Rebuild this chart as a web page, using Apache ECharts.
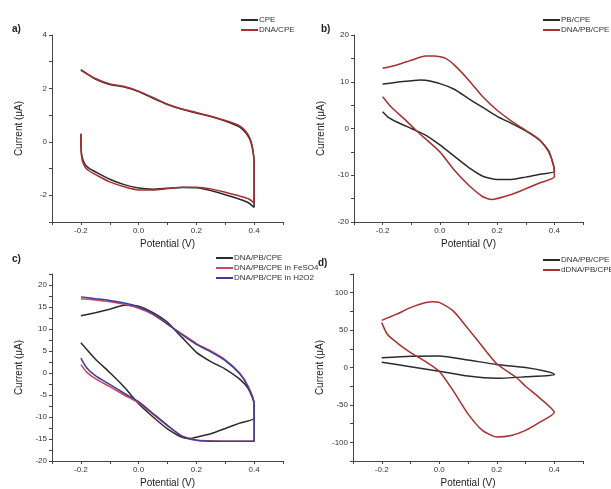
<!DOCTYPE html>
<html>
<head>
<meta charset="utf-8">
<title>CV curves</title>
<script src="https://cdn.jsdelivr.net/npm/echarts@6/dist/echarts.min.js"></script>
<style>
  html, body { margin: 0; padding: 0; background: #fff; }
  #demo { width: 611px; height: 489px; }
</style>
</head>
<body>
<div id="demo"></div>
<script>
// ---------------- 数据区 ----------------
// a) CPE / DNA/CPE
var a_cpe = [[-0.2,0.3],[-0.199,-0.3],[-0.195,-0.6],[-0.185,-0.85],[-0.17,-1.0],[-0.15,-1.12],[-0.1,-1.4],[-0.05,-1.6],[0,-1.73],[0.05,-1.77],[0.1,-1.74],[0.15,-1.71],[0.2,-1.72],[0.25,-1.82],[0.3,-1.98],[0.35,-2.15],[0.38,-2.28],[0.4,-2.45],
             [0.4,-1.5],[0.4,-0.8],[0.395,-0.3],[0.385,0.1],[0.37,0.35],[0.35,0.55],[0.3,0.78],[0.25,0.95],[0.2,1.08],[0.15,1.22],[0.1,1.4],[0.05,1.63],[0,1.88],[-0.05,2.05],[-0.1,2.15],[-0.15,2.35],[-0.2,2.7]];
var a_dna = [[-0.2,0.3],[-0.199,-0.35],[-0.195,-0.7],[-0.185,-0.95],[-0.17,-1.1],[-0.15,-1.22],[-0.1,-1.5],[-0.05,-1.68],[0,-1.8],[0.05,-1.8],[0.1,-1.75],[0.15,-1.7],[0.2,-1.7],[0.25,-1.76],[0.3,-1.89],[0.35,-2.03],[0.38,-2.13],[0.4,-2.28],
             [0.4,-1.5],[0.4,-0.8],[0.396,-0.3],[0.387,0.1],[0.372,0.38],[0.35,0.6],[0.3,0.8],[0.25,0.96],[0.2,1.1],[0.15,1.23],[0.1,1.41],[0.05,1.66],[0,1.9],[-0.05,2.07],[-0.1,2.17],[-0.15,2.37],[-0.2,2.68]];

// b) PB/CPE / DNA/PB/CPE
var b_pb = [[-0.2,3.6],[-0.18,2.4],[-0.15,1.4],[-0.1,0.0],[-0.05,-1.4],[0,-3.5],[0.05,-5.9],[0.1,-8.3],[0.15,-10.2],[0.2,-10.9],[0.25,-10.9],[0.3,-10.4],[0.35,-9.8],[0.4,-9.2],
            [0.397,-7.9],[0.38,-4.8],[0.35,-2.6],[0.3,-0.5],[0.25,1.1],[0.2,2.6],[0.15,4.5],[0.1,6.4],[0.05,8.4],[0,9.6],[-0.05,10.3],[-0.07,10.4],[-0.1,10.2],[-0.15,9.9],[-0.2,9.5]];
var b_dna = [[-0.2,6.8],[-0.17,4.6],[-0.12,1.8],[-0.08,-0.6],[0,-5],[0.05,-8.9],[0.1,-12.1],[0.15,-14.6],[0.18,-15.2],[0.25,-14.1],[0.3,-12.9],[0.35,-11.6],[0.4,-10.4],
             [0.397,-7.9],[0.38,-5],[0.35,-2.5],[0.3,-0.4],[0.25,1.6],[0.2,3.9],[0.15,6.8],[0.1,10.4],[0.05,13.6],[0.02,15],[-0.02,15.5],[-0.05,15.5],[-0.1,14.6],[-0.15,13.6],[-0.2,12.9]];

// c) DNA/PB/CPE, in FeSO4, in H2O2
var c_dna = [[-0.2,6.9],[-0.15,3.2],[-0.1,0.1],[-0.05,-3.2],[0,-7],[0.05,-10],[0.1,-12.7],[0.15,-14.6],[0.18,-14.9],[0.2,-14.6],[0.25,-13.8],[0.3,-12.6],[0.35,-11.4],[0.4,-10.3],
             [0.4,-7],[0.38,-3.6],[0.35,-1.4],[0.3,0.9],[0.25,2.6],[0.2,4.7],[0.15,8.1],[0.1,11.5],[0.05,13.7],[0,15.2],[-0.05,15.4],[-0.1,14.5],[-0.15,13.7],[-0.2,13]];
var c_fe = [[-0.2,1.9],[-0.18,0.2],[-0.15,-1.3],[-0.1,-3.1],[-0.05,-5],[0,-6.8],[0.05,-9.4],[0.1,-12],[0.15,-14.3],[0.2,-15.2],[0.25,-15.4],[0.3,-15.5],[0.35,-15.5],[0.4,-15.5],
            [0.4,-7],[0.38,-3.1],[0.35,0],[0.3,3.0],[0.25,5.0],[0.2,6.7],[0.15,8.9],[0.1,11.1],[0.05,13.3],[0,14.7],[-0.05,15.6],[-0.1,16.2],[-0.15,16.6],[-0.2,16.9]];
var c_h2o2 = [[-0.2,3.4],[-0.18,1.2],[-0.15,-0.6],[-0.1,-2.6],[-0.05,-4.6],[0,-6.5],[0.05,-9.2],[0.1,-11.9],[0.15,-14.4],[0.2,-15.3],[0.25,-15.5],[0.3,-15.5],[0.35,-15.5],[0.4,-15.5],
              [0.4,-7],[0.38,-3.3],[0.35,-0.2],[0.3,2.8],[0.25,4.8],[0.2,6.5],[0.15,8.7],[0.1,11.1],[0.05,13.5],[0,15.0],[-0.05,15.9],[-0.1,16.5],[-0.15,16.9],[-0.2,17.3]];

// d) DNA/PB/CPE / dDNA/PB/CPE
var d_dna = [[-0.2,7],[-0.1,1],[0,-5],[0.1,-11.5],[0.2,-14.5],[0.3,-12.5],[0.4,-10],
             [0.4,-9],[0.37,-5],[0.3,0],[0.2,4],[0.1,10],[0,15.5],[-0.1,15],[-0.2,13]];
var d_ddna = [[-0.2,60],[-0.18,44],[-0.14,31],[-0.1,20],[-0.05,8.5],[0,-5],[0.05,-32],[0.1,-62],[0.15,-84],[0.2,-93],[0.25,-91],[0.3,-84],[0.35,-73],[0.4,-60],
              [0.35,-41],[0.3,-25],[0.27,-14],[0.2,5],[0.15,28],[0.1,52],[0.05,75],[0,87],[-0.02,88],[-0.05,86.5],[-0.1,80],[-0.15,71],[-0.2,63]];

var x_ticks = ['-0.2', '0.0', '0.2', '0.4'];

// ---------------- 配置 ----------------
var basedata = {
    dom_bar: document.getElementById('demo'),
    myChart: null,
    black: '#2b2b2b',
    red: '#a8302f',
    pink: '#d0455e',
    blue: '#3c3c9c'
};

var panels = [
    { grid: { left: 52, top: 35, width: 231, height: 187 }, y: [-3, 4, 1, 2], tag: 'a)', tagPos: [12, 24], legendPos: [241, 16] },
    { grid: { left: 354, top: 35, width: 229, height: 187 }, y: [-20, 20, 5, 10], tag: 'b)', tagPos: [321, 24], legendPos: [543, 16] },
    { grid: { left: 52, top: 274, width: 231, height: 188 }, y: [-20, 22.5, 2.5, 5], tag: 'c)', tagPos: [12, 254], legendPos: [216, 254] },
    { grid: { left: 353, top: 274, width: 230, height: 188 }, y: [-125, 125, 25, 50], tag: 'd)', tagPos: [318, 258], legendPos: [543, 256] }
];

var seriesDefs = [
    { name: 'CPE', data: a_cpe, color: basedata.black, panel: 0 },
    { name: 'DNA/CPE', data: a_dna, color: basedata.red, panel: 0 },
    { name: 'PB/CPE', data: b_pb, color: basedata.black, panel: 1 },
    { name: 'DNA/PB/CPE', data: b_dna, color: basedata.red, panel: 1 },
    { name: 'DNA/PB/CPE ', data: c_dna, color: basedata.black, panel: 2 },
    { name: 'DNA/PB/CPE in FeSO4', data: c_fe, color: basedata.pink, panel: 2 },
    { name: 'DNA/PB/CPE in H2O2', data: c_h2o2, color: basedata.blue, panel: 2 },
    { name: 'DNA/PB/CPE  ', data: d_dna, color: basedata.black, panel: 3 },
    { name: 'dDNA/PB/CPE', data: d_ddna, color: basedata.red, panel: 3 }
];

var axisStyle = { onZero: false, lineStyle: { color: '#444', width: 1 } };
var labelFont = { fontFamily: 'Liberation Sans', fontSize: 8, color: '#333' };

function build_option() {
    var grids = [], xAxes = [], yAxes = [], series = [], legends = [], graphics = [];
    panels.forEach(function (p, i) {
        grids.push(p.grid);
        xAxes.push({
            type: 'value', gridIndex: i, min: -0.3, max: 0.5, interval: 0.1,
            name: 'Potential (V)', nameLocation: 'middle', nameGap: 17,
            nameTextStyle: { fontFamily: 'Liberation Sans', fontSize: 10, color: '#222' },
            axisLine: axisStyle, axisTick: { length: 3, lineStyle: { color: '#444' } },
            splitLine: { show: false },
            axisLabel: Object.assign({ margin: 5, formatter: function (v) {
                var k = Math.round(v * 10);
                return (k % 2 === 0 && k >= -2 && k <= 4) ? x_ticks[(k + 2) / 2] : '';
            } }, labelFont)
        });
        var yr = p.y;
        yAxes.push({
            type: 'value', gridIndex: i, min: yr[0], max: yr[1], interval: yr[2],
            name: 'Current (μA)', nameLocation: 'middle', nameGap: 28, nameRotate: 90,
            nameTextStyle: { fontFamily: 'Liberation Sans', fontSize: 10, color: '#222' },
            axisLine: axisStyle, axisTick: { length: 3, lineStyle: { color: '#444' } },
            splitLine: { show: false },
            axisLabel: Object.assign({ margin: 5, showMinLabel: true, showMaxLabel: true, formatter: function (v) {
                var k = Math.round(v / yr[3] * 1000) / 1000;
                return Number.isInteger(k) ? String(v) : '';
            } }, labelFont)
        });
        legends.push({
            orient: 'vertical', left: p.legendPos[0], top: p.legendPos[1], itemGap: 2,
            itemWidth: 17, itemHeight: 2, icon: 'rect', padding: 0,
            textStyle: { fontFamily: 'Liberation Sans', fontSize: 8, color: '#333', padding: [0, 0, 0, -4] },
            data: seriesDefs.filter(function (s) { return s.panel === i; }).map(function (s) { return s.name; })
        });
        graphics.push({
            type: 'text', left: p.tagPos[0], top: p.tagPos[1],
            style: { text: p.tag, font: 'bold 10px "Liberation Sans"', fill: '#222' }
        });
    });
    seriesDefs.forEach(function (s) {
        series.push({
            name: s.name, type: 'line', xAxisIndex: s.panel, yAxisIndex: s.panel,
            data: s.data, smooth: 0.2, showSymbol: false, symbol: 'none',
            lineStyle: { color: s.color, width: 1.5 }, itemStyle: { color: s.color },
            animation: false
        });
    });
    return {
        backgroundColor: '#fff',
        animation: false,
        grid: grids, xAxis: xAxes, yAxis: yAxes,
        legend: legends, series: series, graphic: graphics
    };
}

var init_application = function () {
    basedata.myChart = echarts.init(basedata.dom_bar);
    basedata.myChart.setOption(build_option());
    window.onresize = function () {
        basedata.myChart.resize();
    };
};

init_application();
</script>
</body>
</html>
